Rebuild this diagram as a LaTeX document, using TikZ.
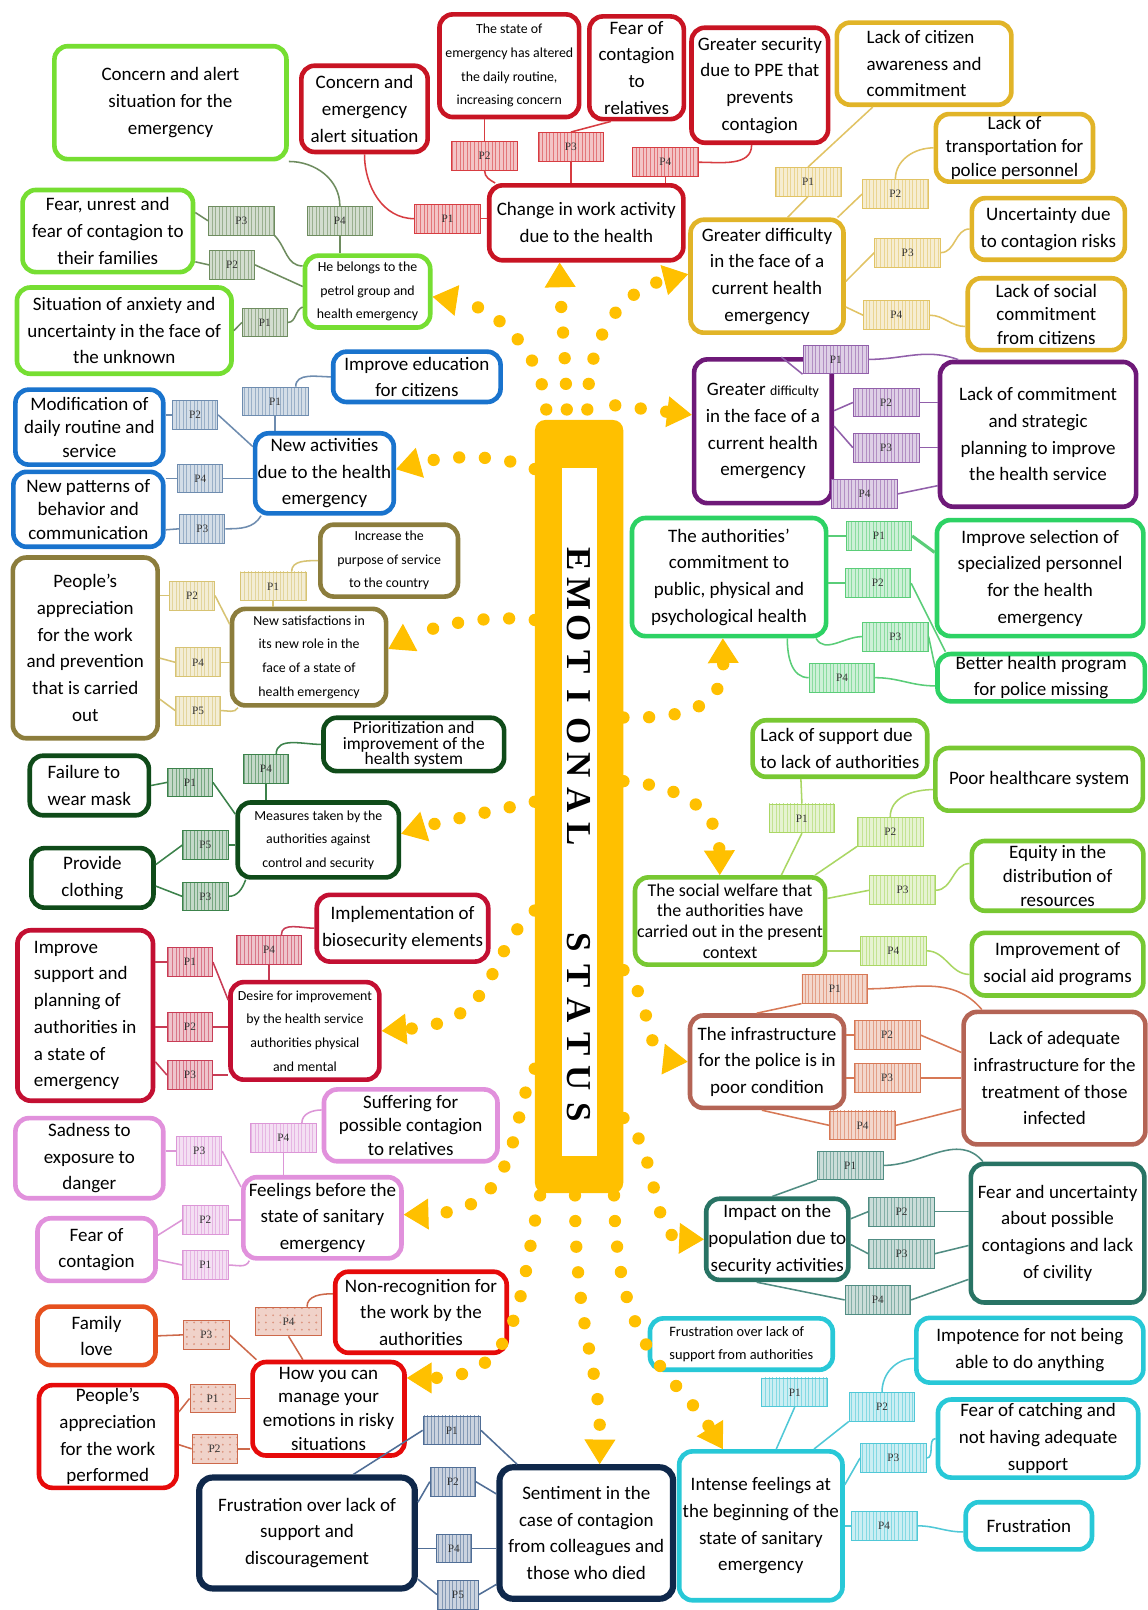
\documentclass[tikz,border=0pt]{standalone}
\usepackage{fontspec}
\setmainfont{Carlito}
\newfontfamily\emofont{Liberation Serif}
\usetikzlibrary{arrows.meta, patterns.meta}

\definecolor{emo}{RGB}{255,192,0}
\definecolor{limeg}{RGB}{118,222,50}
\definecolor{limegp}{RGB}{110,140,95}
\definecolor{redb}{RGB}{200,20,35}
\definecolor{redp}{RGB}{215,60,65}
\definecolor{goldb}{RGB}{225,180,40}
\definecolor{goldp}{RGB}{225,195,100}
\definecolor{blueb}{RGB}{25,115,205}
\definecolor{bluep}{RGB}{110,140,175}
\definecolor{oliveb}{RGB}{140,125,60}
\definecolor{olivep}{RGB}{215,195,115}
\definecolor{dgreen}{RGB}{15,75,25}
\definecolor{dgreenp}{RGB}{60,130,75}
\definecolor{crim}{RGB}{195,15,50}
\definecolor{crimp}{RGB}{200,60,85}
\definecolor{orch}{RGB}{225,145,220}
\definecolor{orchp}{RGB}{220,150,215}
\definecolor{redf}{RGB}{230,10,10}
\definecolor{orng}{RGB}{230,80,30}
\definecolor{orngp}{RGB}{205,105,75}
\definecolor{navy}{RGB}{15,40,75}
\definecolor{navyp}{RGB}{80,110,150}
\definecolor{purp}{RGB}{110,25,120}
\definecolor{purpp}{RGB}{145,95,170}
\definecolor{emer}{RGB}{45,210,100}
\definecolor{emerp}{RGB}{90,205,120}
\definecolor{ygrn}{RGB}{120,200,50}
\definecolor{ygrnp}{RGB}{170,215,100}
\definecolor{terra}{RGB}{180,100,85}
\definecolor{terrap}{RGB}{215,120,85}
\definecolor{tealb}{RGB}{40,115,100}
\definecolor{tealp}{RGB}{80,140,130}
\definecolor{cyanb}{RGB}{40,200,215}
\definecolor{cyanp}{RGB}{80,200,215}

\newcommand\mapfont{\fontsize{18.5}{26}\selectfont}
\newcommand\mapfontb{\fontsize{18.5}{23}\selectfont}
\newcommand\mapfontd{\fontsize{17.5}{20}\selectfont}
\newcommand\maptight{\fontsize{17}{15}\selectfont}
\newcommand\mapsmall{\fontsize{13.5}{23}\selectfont}
\newcommand\mapsmallb{\fontsize{14}{23}\selectfont}
\newcommand\plfont{\emofont\fontsize{11}{11}\selectfont}

\tikzset{
  topic/.style = {draw = #1, line width = 4.5pt, rounded corners = 13pt, fill = white,
                  align = center, inner sep = 2pt, font = \mapfont},
  plab/.style = {draw = #1, line width = 0.8pt, preaction = {fill = #1!30},
                 pattern = {Lines[angle = 90, distance = 3.5pt, line width = 0.9pt]},
                 pattern color = #1!70, minimum width = 64pt, minimum height = 28pt,
                 inner sep = 0pt, font = \plfont, text = black!80},
  plabdot/.style = {plab = #1, pattern = {Dots[distance = 7pt, radius = 1pt]}},
  narrow/.style = {minimum width = 44pt},
  ln/.style = {draw = #1, line width = 1.5pt},
  flow/.style = {draw = emo, line width = 12pt, line cap = round,
                 dash pattern = on 0pt off 25pt,
                 -{Triangle[length = 24pt, width = 30pt, line width = 1pt]}},
  emot/.style = {rotate = -90, inner sep = 0pt, font = \emofont\bfseries\fontsize{34}{34}\selectfont}
}

\begin{document}
\begin{tikzpicture}[x = 1pt, y = -1pt]
  \path[use as bounding box, fill = white] (0, 0) rectangle (1118, 1568);

  % centre
  \node[fill = emo, rounded corners = 10pt, minimum width = 86pt, minimum height = 753pt, inner sep = 0pt] (bar) at (564, 785.5) {};
  \node[fill = white, minimum width = 34pt, minimum height = 670pt, inner sep = 0pt] (title) at (564, 791) {};
  \foreach \ch [count = \i from 0] in {E,M,O,T,I,O,N,A,L}
    \node[emot] (emo-\i) at (564, 545 + 33.4 * \i) {\ch};
  \foreach \ch [count = \i from 0] in {S,T,A,T,U,S}
    \node[emot] (sta-\i) at (564, 918 + 33 * \i) {\ch};

  % top left
  \node[topic = limeg, minimum width = 226pt, minimum height = 110pt] (g1) at (166, 100) {Concern and alert\\situation for the\\emergency};
  \node[topic = limeg, minimum width = 166pt, minimum height = 80pt] (g2) at (105, 225) {Fear, unrest and\\fear of contagion to\\their families};
  \node[topic = limeg, minimum width = 209pt, minimum height = 84pt] (g3) at (121, 322) {Situation of anxiety and\\uncertainty in the face of\\the unknown};
  \node[topic = limeg, minimum width = 122pt, minimum height = 70pt, font = \mapsmall] (gc) at (358, 284) {He belongs to the\\petrol group and\\health emergency};
  \node[plab = limegp] (gp3) at (235, 215) {P3};
  \node[plab = limegp] (gp4) at (331, 215) {P4};
  \node[plab = limegp, narrow] (gp2) at (226, 258) {P2};
  \node[plab = limegp, narrow] (gp1) at (258, 314) {P1};

  % top
  \node[topic = redb, minimum width = 123pt, minimum height = 84pt] (r1) at (355, 106) {Concern and\\emergency\\alert situation};
  \node[topic = redb, minimum width = 136pt, minimum height = 100pt, font = \mapsmall] (r2) at (496, 64) {The state of\\emergency has altered\\the daily routine,\\increasing concern};
  \node[topic = redb, minimum width = 92pt, minimum height = 100pt] (r3) at (620, 66) {Fear of\\contagion\\to\\relatives};
  \node[topic = redb, minimum width = 133pt, minimum height = 112pt] (r4) at (740, 83) {Greater security\\due to PPE that\\prevents\\contagion};
  \node[topic = redb, minimum width = 189pt, minimum height = 73pt] (rc) at (571, 217) {Change in work activity\\due to the health};
  \node[plab = redp] (rp1) at (436, 213) {P1};
  \node[plab = redp] (rp2) at (472, 152) {P2};
  \node[plab = redp] (rp3) at (556, 143) {P3};
  \node[plab = redp] (rp4) at (648, 158) {P4};

  % top right
  \node[topic = goldb, minimum width = 170pt, minimum height = 80pt, align = left] (y1) at (900, 62) {Lack of citizen\\awareness and\\commitment};
  \node[topic = goldb, minimum width = 153pt, minimum height = 64pt, font = \mapfontb] (y2) at (988, 144) {Lack of\\transportation for\\police personnel};
  \node[topic = goldb, minimum width = 149pt, minimum height = 60pt] (y3) at (1021, 223) {Uncertainty due\\to contagion risks};
  \node[topic = goldb, minimum width = 153pt, minimum height = 70pt, font = \mapfontb] (y4) at (1019, 306) {Lack of social\\commitment\\from citizens};
  \node[topic = goldb, minimum width = 149pt, minimum height = 110pt] (yc) at (747, 269) {Greater difficulty\\in the face of a\\current health\\emergency};
  \node[plab = goldp] (yp1) at (787, 177) {P1};
  \node[plab = goldp] (yp2) at (872, 189) {P2};
  \node[plab = goldp] (yp3) at (884, 246) {P3};
  \node[plab = goldp] (yp4) at (873, 307) {P4};

  % blue
  \node[topic = blueb, minimum width = 163pt, minimum height = 49pt] (b1) at (406, 367) {Improve education\\for citizens};
  \node[topic = blueb, minimum width = 144pt, minimum height = 73pt, font = \mapfontb] (b2) at (87, 416) {Modification of\\daily routine and\\service};
  \node[topic = blueb, minimum width = 146pt, minimum height = 73pt, font = \mapfontb] (b3) at (86, 496) {New patterns of\\behavior and\\communication};
  \node[topic = blueb, minimum width = 135pt, minimum height = 78pt] (bc) at (316, 461) {New activities\\due to the health\\emergency};
  \node[plab = bluep] (bp1) at (268, 391) {P1};
  \node[plab = bluep, narrow] (bp2) at (190, 404) {P2};
  \node[plab = bluep, narrow] (bp4) at (195, 466) {P4};
  \node[plab = bluep, narrow] (bp3) at (197, 515) {P3};

  % olive
  \node[topic = oliveb, minimum width = 134pt, minimum height = 70pt, font = \mapsmall] (o1) at (379, 546) {Increase the\\purpose of service\\to the country};
  \node[topic = oliveb, minimum width = 141pt, minimum height = 176pt] (o2) at (83, 631) {People's\\appreciation\\for the work\\and prevention\\that is carried\\out};
  \node[topic = oliveb, minimum width = 150pt, minimum height = 94pt, font = \mapsmall] (oc) at (301, 640) {New satisfactions in\\its new role in the\\face of a state of\\health emergency};
  \node[plab = olivep] (op1) at (266, 571) {P1};
  \node[plab = olivep, narrow] (op2) at (187, 580) {P2};
  \node[plab = olivep, narrow] (op4) at (193, 645) {P4};
  \node[plab = olivep, narrow] (op5) at (193, 692) {P5};

  % dark green
  \node[topic = dgreen, minimum width = 176pt, minimum height = 52pt, font = \maptight] (d1) at (403, 725) {Prioritization and\\improvement of the\\health system};
  \node[topic = dgreen, minimum width = 116pt, minimum height = 58pt, align = left] (d2) at (87, 765) {Failure to\\wear mask};
  \node[topic = dgreen, minimum width = 119pt, minimum height = 58pt] (d3) at (90, 855) {Provide\\clothing};
  \node[topic = dgreen, minimum width = 157pt, minimum height = 73pt, font = \mapsmall] (dc) at (310, 818) {Measures taken by the\\authorities against\\control and security};
  \node[plab = dgreenp, narrow] (dp4) at (259, 749) {P4};
  \node[plab = dgreenp, narrow] (dp1) at (185, 762) {P1};
  \node[plab = dgreenp, narrow] (dp5) at (200, 823) {P5};
  \node[plab = dgreenp, narrow] (dp3) at (200, 873) {P3};

  % crimson
  \node[topic = crim, minimum width = 167pt, minimum height = 65pt] (c1) at (392, 904) {Implementation of\\biosecurity elements};
  \node[topic = crim, minimum width = 132pt, minimum height = 166pt, align = left] (c2) at (83, 989) {Improve\\support and\\planning of\\authorities in\\a state of\\emergency};
  \node[topic = crim, minimum width = 145pt, minimum height = 95pt, font = \mapsmall] (cc) at (297, 1004) {Desire for improvement\\by the health service\\authorities physical\\and mental};
  \node[plab = crimp] (cp4) at (262, 925) {P4};
  \node[plab = crimp, narrow] (cp1) at (185, 937) {P1};
  \node[plab = crimp, narrow] (cp2) at (185, 1000) {P2};
  \node[plab = crimp, narrow] (cp3) at (185, 1047) {P3};

  % pink
  \node[topic = orch, minimum width = 169pt, minimum height = 70pt, font = \mapfontb] (k1) at (400, 1096) {Suffering for\\possible contagion\\to relatives};
  \node[topic = orch, minimum width = 144pt, minimum height = 78pt] (k2) at (87, 1128) {Sadness to\\exposure to\\danger};
  \node[topic = orch, minimum width = 115pt, minimum height = 61pt] (k3) at (94, 1217) {Fear of\\contagion};
  \node[topic = orch, minimum width = 154pt, minimum height = 79pt] (kc) at (314, 1186) {Feelings before the\\state of sanitary\\emergency};
  \node[plab = orchp] (kp4) at (276, 1108) {P4};
  \node[plab = orchp, narrow] (kp3) at (194, 1121) {P3};
  \node[plab = orchp, narrow] (kp2) at (200, 1188) {P2};
  \node[plab = orchp, narrow] (kp1) at (200, 1232) {P1};

  % bottom left
  \node[topic = redf, minimum width = 167pt, minimum height = 79pt] (f1) at (410, 1278) {Non-recognition for\\the work by the\\authorities};
  \node[topic = orng, minimum width = 115pt, minimum height = 57pt] (f2) at (94, 1301) {Family\\love};
  \node[topic = redf, minimum width = 134pt, minimum height = 100pt] (f3) at (105, 1399) {People's\\appreciation\\for the work\\performed};
  \node[topic = redf, minimum width = 148pt, minimum height = 91pt, font = \mapfontb] (fc) at (320, 1372) {How you can\\manage your\\emotions in risky\\situations};
  \node[plabdot = orngp] (fp4) at (281, 1287) {P4};
  \node[plabdot = orngp, narrow] (fp3) at (201, 1300) {P3};
  \node[plabdot = orngp, narrow] (fp1) at (207, 1362) {P1};
  \node[plabdot = orngp, narrow] (fp2) at (209, 1411) {P2};

  % bottom
  \node[topic = navy, line width = 6pt, minimum width = 210pt, minimum height = 108pt] (n1) at (299, 1493) {Frustration over lack of\\support and\\discouragement};
  \node[topic = navy, line width = 6pt, minimum width = 169pt, minimum height = 128pt] (n2) at (571, 1493) {Sentiment in the\\case of contagion\\from colleagues and\\those who died};
  \node[plab = navyp, minimum width = 56pt] (np1) at (440, 1393) {P1};
  \node[plab = navyp, narrow] (np2) at (441, 1443) {P2};
  \node[plab = navyp, minimum width = 34pt] (np4) at (442, 1508) {P4};
  \node[plab = navyp, minimum width = 40pt] (np5) at (446, 1553) {P5};

  % purple
  \node[topic = purp, minimum width = 191pt, minimum height = 141pt] (u1) at (1011, 423) {Lack of commitment\\and strategic\\planning to improve\\the health service};
  \node[topic = purp, minimum width = 134pt, minimum height = 140pt] (uc) at (743, 420) {Greater {\mapsmall difficulty}\\in the face of a\\current health\\emergency};
  \node[plab = purpp] (up1) at (814, 350) {P1};
  \node[plab = purpp] (up2) at (863, 392) {P2};
  \node[plab = purpp] (up3) at (863, 436) {P3};
  \node[plab = purpp] (up4) at (842, 481) {P4};

  % emerald
  \node[topic = emer, minimum width = 201pt, minimum height = 113pt] (e1) at (1013, 563) {Improve selection of\\specialized personnel\\for the health\\emergency};
  \node[topic = emer, minimum width = 202pt, minimum height = 46pt] (e2) at (1014, 660) {Better health program\\for police missing};
  \node[topic = emer, minimum width = 189pt, minimum height = 115pt] (ec) at (710, 562) {The authorities'\\commitment to\\public, physical and\\psychological health};
  \node[plab = emerp] (ep1) at (856, 522) {P1};
  \node[plab = emerp] (ep2) at (855, 568) {P2};
  \node[plab = emerp] (ep3) at (872, 620) {P3};
  \node[plab = emerp] (ep4) at (820, 660) {P4};

  % light green
  \node[topic = ygrn, minimum width = 170pt, minimum height = 55pt, align = left] (l1) at (818, 729) {Lack of support due\\to lack of authorities};
  \node[topic = ygrn, minimum width = 202pt, minimum height = 61pt] (l2) at (1012, 759) {Poor healthcare system};
  \node[topic = ygrn, minimum width = 167pt, minimum height = 68pt, font = \mapfontb] (l3) at (1030, 853) {Equity in the\\distribution of\\resources};
  \node[topic = ygrn, minimum width = 167pt, minimum height = 61pt] (l4) at (1030, 939) {Improvement of\\social aid programs};
  \node[topic = ygrn, minimum width = 184pt, minimum height = 85pt, font = \mapfontd] (lc) at (711, 897) {The social welfare that\\the authorities have\\carried out in the present\\context};
  \node[plab = ygrnp] (lp1) at (781, 797) {P1};
  \node[plab = ygrnp] (lp2) at (867, 810) {P2};
  \node[plab = ygrnp] (lp3) at (879, 867) {P3};
  \node[plab = ygrnp] (lp4) at (870, 926) {P4};

  % brown
  \node[topic = terra, minimum width = 177pt, minimum height = 129pt] (t1) at (1027, 1050) {Lack of adequate\\infrastructure for the\\treatment of those\\infected};
  \node[topic = terra, minimum width = 150pt, minimum height = 90pt] (tc) at (747, 1034) {The infrastructure\\for the police is in\\poor condition};
  \node[plab = terrap] (tp1) at (813, 963) {P1};
  \node[plab = terrap] (tp2) at (864, 1008) {P2};
  \node[plab = terrap] (tp3) at (864, 1050) {P3};
  \node[plab = terrap] (tp4) at (840, 1096) {P4};

  % teal
  \node[topic = tealb, minimum width = 169pt, minimum height = 135pt] (s1) at (1030, 1201) {Fear and uncertainty\\about possible\\contagions and lack\\of civility};
  \node[topic = tealb, minimum width = 136pt, minimum height = 79pt] (sc) at (757, 1207) {Impact on the\\population due to\\security activities};
  \node[plab = tealp] (sp1) at (828, 1135) {P1};
  \node[plab = tealp] (sp2) at (878, 1180) {P2};
  \node[plab = tealp] (sp3) at (878, 1221) {P3};
  \node[plab = tealp] (sp4) at (855, 1266) {P4};

  % cyan
  \node[topic = cyanb, minimum width = 178pt, minimum height = 50pt, font = \mapsmallb, align = left] (q1) at (722, 1309) {Frustration over lack of\\support from authorities};
  \node[topic = cyanb, minimum width = 221pt, minimum height = 63pt] (q2) at (1003, 1315) {Impotence for not being\\able to do anything};
  \node[topic = cyanb, minimum width = 195pt, minimum height = 76pt] (q3) at (1011, 1401) {Fear of catching and\\not having adequate\\support};
  \node[topic = cyanb, minimum width = 123pt, minimum height = 46pt] (q4) at (1002, 1486) {Frustration};
  \node[topic = cyanb, minimum width = 159pt, minimum height = 145pt] (qc) at (741, 1486) {Intense feelings at\\the beginning of the\\state of sanitary\\emergency};
  \node[plab = cyanp] (qp1) at (774, 1356) {P1};
  \node[plab = cyanp] (qp2) at (859, 1370) {P2};
  \node[plab = cyanp] (qp3) at (870, 1420) {P3};
  \node[plab = cyanp] (qp4) at (861, 1486) {P4};

  % links
  \draw[ln = limegp] (g1.south east) to[out = 0, in = 90] (gp4.north);
  \draw[ln = limegp] (gp4.south) -- (gp4.south |- gc.north);
  \draw[ln = limegp] ([yshift = 18pt]g2.east) -- (gp3.west);
  \draw[ln = limegp] (gp3.south east) to[out = -45, in = 180] ([yshift = 25pt]gc.west);
  \draw[ln = limegp] ([yshift = -30pt]g2.east) -- (gp2.west);
  \draw[ln = limegp] (gp2.east) -- ([yshift = 5pt]gc.west);
  \draw[ln = limegp] (g3.east) -- (gp1.west);
  \draw[ln = limegp] (gp1.east) to[out = 0, in = 200] ([yshift = -15pt]gc.west);

  \draw[ln = redp] (r1.south) to[out = -90, in = 180] (rp1.west);
  \draw[ln = redp] (rp1.east) -- (rp1.east -| rc.west);
  \draw[ln = redp] (rp2.north) -- (rp2.north |- r2.south);
  \draw[ln = redp] (rp2.south) to[out = -90, in = 150] ([xshift = 8pt]rc.north west);
  \draw[ln = redp] ([xshift = -25pt]r3.south) -- (rp3.north);
  \draw[ln = redp] (rp3.south) -- (rp3.south |- rc.north);
  \draw[ln = redp] ([xshift = -8pt]r4.south) to[out = -90, in = 0] (rp4.east);
  \draw[ln = redp] (rp4.south) -- (rp4.south |- rc.north);

  \draw[ln = goldp] ([xshift = -50pt]y1.south) -- (yp1.north);
  \draw[ln = goldp] (yp1.south) -- ([xshift = 20pt]yc.north);
  \draw[ln = goldp] ([xshift = -8pt]yc.north east) -- (yp2.west);
  \draw[ln = goldp] (yp2.north) to[out = 90, in = 180] (y2.west);
  \draw[ln = goldp] ([yshift = -5pt]yc.east) -- (yp3.west);
  \draw[ln = goldp] (yp3.east) to[out = 0, in = 180] (y3.west);
  \draw[ln = goldp] ([yshift = -30pt]yc.east) -- (yp4.west);
  \draw[ln = goldp] (yp4.east) to[out = 0, in = 180] ([yshift = -12pt]y4.west);

  \draw[ln = bluep] (b1.west) to[out = 180, in = 90] ([xshift = 20pt]bp1.north);
  \draw[ln = bluep] (bp1.south) -- (bp1.south |- bc.north);
  \draw[ln = bluep] ([yshift = 12pt]b2.east) -- (bp2.west);
  \draw[ln = bluep] (bp2.east) -- ([yshift = 26pt]bc.west);
  \draw[ln = bluep] ([yshift = 30pt]b3.east) -- (bp4.west);
  \draw[ln = bluep] (bp4.east) -- (bp4.east -| bc.west);
  \draw[ln = bluep] ([yshift = -20pt]b3.east) -- (bp3.west);
  \draw[ln = bluep] (bp3.east) to[out = 0, in = -120] ([xshift = 8pt]bc.south west);

  \draw[ln = olivep] (o1.west) to[out = 180, in = 90] ([xshift = 18pt]op1.north);
  \draw[ln = olivep] (op1.south) -- (op1.south |- oc.north);
  \draw[ln = olivep] ([yshift = 51pt]o2.east) -- (op2.west);
  \draw[ln = olivep] (op2.east) -- ([yshift = 32pt]oc.west);
  \draw[ln = olivep] ([yshift = -10pt]o2.east) -- (op4.west);
  \draw[ln = olivep] (op4.east) -- (op4.east -| oc.west);
  \draw[ln = olivep] ([yshift = -50pt]o2.east) -- (op5.west);
  \draw[ln = olivep] (op5.east) to[out = 0, in = -120] ([xshift = 8pt]oc.south west);

  \draw[ln = dgreenp] (d1.west) to[out = 180, in = 90] ([xshift = 10pt]dp4.north);
  \draw[ln = dgreenp] (dp4.south) -- (dp4.south |- dc.north);
  \draw[ln = dgreenp] (d2.east) -- (dp1.west);
  \draw[ln = dgreenp] (dp1.east) -- ([yshift = 25pt]dc.west);
  \draw[ln = dgreenp] ([yshift = 13pt]d3.east) -- (dp5.west);
  \draw[ln = dgreenp] (dp5.east) -- (dp5.east -| dc.west);
  \draw[ln = dgreenp] ([yshift = -8pt]d3.east) -- (dp3.west);
  \draw[ln = dgreenp] (dp3.east) to[out = 0, in = -110] ([xshift = 10pt]dc.south west);

  \draw[ln = crimp] (c1.west) to[out = 180, in = 90] ([xshift = 12pt]cp4.north);
  \draw[ln = crimp] (cp4.south) -- (cp4.south |- cc.north);
  \draw[ln = crimp] ([yshift = 52pt]c2.east) -- (cp1.west);
  \draw[ln = crimp] (cp1.east) -- ([yshift = 30pt]cc.west);
  \draw[ln = crimp] ([yshift = -11pt]c2.east) -- (cp2.west);
  \draw[ln = crimp] (cp2.east) -- (cp2.east -| cc.west);
  \draw[ln = crimp] ([yshift = -45pt]c2.east) -- (cp3.west);
  \draw[ln = crimp] (cp3.east) -- (cp3.east -| cc.west);

  \draw[ln = orchp] ([yshift = 15pt]k1.west) to[out = 180, in = 90] ([xshift = 18pt]kp4.north);
  \draw[ln = orchp] (kp4.south) -- (kp4.south |- kc.north);
  \draw[ln = orchp] ([yshift = 7pt]k2.east) -- (kp3.west);
  \draw[ln = orchp] (kp3.east) -- ([yshift = 30pt]kc.west);
  \draw[ln = orchp] ([yshift = 14pt]k3.east) -- (kp2.west);
  \draw[ln = orchp] (kp2.east) -- (kp2.east -| kc.west);
  \draw[ln = orchp] ([yshift = -10pt]k3.east) -- (kp1.west);
  \draw[ln = orchp] (kp1.east) to[out = 0, in = -110] ([xshift = 8pt]kc.south west);

  \draw[ln = orngp] ([yshift = 18pt]f1.west) to[out = 180, in = 90] ([xshift = 18pt]fp4.north);
  \draw[ln = orngp] (fp4.south) -- ([xshift = -25pt]fc.north);
  \draw[ln = orngp] (f2.east) -- (fp3.west);
  \draw[ln = orngp] (fp3.east) -- ([xshift = 6pt]fc.north west);
  \draw[ln = orngp] ([yshift = 24pt]f3.east) -- (fp1.west);
  \draw[ln = orngp] (fp1.east) -- (fp1.east -| fc.west);
  \draw[ln = orngp] ([yshift = -8pt]f3.east) -- (fp2.west);
  \draw[ln = orngp] (fp2.east) -- (fp2.east -| fc.west);

  \draw[ln = navyp] ([xshift = 45pt]n1.north) -- (np1.west);
  \draw[ln = navyp] (np1.east) -- ([xshift = 20pt]n2.north west);
  \draw[ln = navyp] ([yshift = 30pt]n1.east) -- (np2.west);
  \draw[ln = navyp] (np2.east) -- ([yshift = 38pt]n2.west);
  \draw[ln = navyp] ([yshift = -15pt]n1.east) -- (np4.west);
  \draw[ln = navyp] (np4.east) -- (np4.east -| n2.west);
  \draw[ln = navyp] ([yshift = -45pt]n1.east) -- (np5.west);
  \draw[ln = navyp] (np5.east) -- ([yshift = -50pt]n2.west);

  \draw[ln = purpp] ([xshift = 18pt]uc.north) -- (up1.south west);
  \draw[ln = purpp] (up1.east) to[out = 0, in = 160] ([xshift = 20pt]u1.north west);
  \draw[ln = purpp] ([yshift = 20pt]uc.east) -- (up2.west);
  \draw[ln = purpp] (up2.east) -- (up2.east -| u1.west);
  \draw[ln = purpp] ([yshift = 5pt]uc.east) -- (up3.west);
  \draw[ln = purpp] (up3.east) -- (up3.east -| u1.west);
  \draw[ln = purpp] (up4.east) -- ([yshift = -50pt]u1.west);

  \draw[ln = emerp] ([yshift = 40pt]ec.east) -- (ep1.west);
  \draw[ln = emerp, line width = 3pt] (ep1.east) -- ([yshift = 25pt]e1.west);
  \draw[ln = emerp] ([yshift = -6pt]ec.east) -- (ep2.west);
  \draw[ln = emerp] (ep2.east) -- ([xshift = 10pt]e2.north west);
  \draw[ln = emerp] ([xshift = -12pt]ec.south east) to[out = -60, in = 180] (ep3.west);
  \draw[ln = emerp] (ep3.east) -- ([yshift = 10pt]e2.west);
  \draw[ln = emerp] ([xshift = -40pt]ec.south east) to[out = -90, in = 180] (ep4.west);
  \draw[ln = emerp] (ep4.east) to[out = 0, in = 180] ([yshift = -8pt]e2.west);

  \draw[ln = ygrnp] ([xshift = -38pt]l1.south) -- (lp1.north);
  \draw[ln = ygrnp] (lp1.south) -- ([xshift = 50pt]lc.north);
  \draw[ln = ygrnp] ([xshift = -12pt]lc.north east) -- (lp2.south west);
  \draw[ln = ygrnp] (lp2.north) to[out = 90, in = 180] ([yshift = -10pt]l2.west);
  \draw[ln = ygrnp] ([yshift = 22pt]lc.east) -- (lp3.west);
  \draw[ln = ygrnp] (lp3.east) to[out = 0, in = 180] ([yshift = 12pt]l3.west);
  \draw[ln = ygrnp] ([yshift = -29pt]lc.east) -- (lp4.west);
  \draw[ln = ygrnp] (lp4.east) to[out = 0, in = 180] ([yshift = -10pt]l4.west);

  \draw[ln = terrap] ([xshift = -10pt]tc.north) -- (tp1.south west);
  \draw[ln = terrap] (tp1.east) to[out = 0, in = 130] ([xshift = 20pt]t1.north west);
  \draw[ln = terrap] ([yshift = 26pt]tc.east) -- (tp2.west);
  \draw[ln = terrap] (tp2.east) -- ([yshift = 25pt]t1.west);
  \draw[ln = terrap] ([yshift = -16pt]tc.east) -- (tp3.west);
  \draw[ln = terrap] (tp3.east) -- (t1.west);
  \draw[ln = terrap] ([xshift = -5pt]tc.south) -- (tp4.west);
  \draw[ln = terrap] (tp4.east) -- ([yshift = -30pt]t1.west);

  \draw[ln = tealp] ([xshift = -5pt]sc.north) -- (sp1.south west);
  \draw[ln = tealp] (sp1.east) to[out = 0, in = 130] ([xshift = 14pt]s1.north west);
  \draw[ln = tealp] ([yshift = 20pt]sc.east) -- (sp2.west);
  \draw[ln = tealp] (sp2.east) -- (sp2.east -| s1.west);
  \draw[ln = tealp] ([yshift = -5pt]sc.east) -- (sp3.west);
  \draw[ln = tealp] (sp3.east) -- ([yshift = -12pt]s1.west);
  \draw[ln = tealp] ([xshift = -20pt]sc.south) -- (sp4.west);
  \draw[ln = tealp] (sp4.east) -- ([yshift = -45pt]s1.west);

  \draw[ln = cyanp] (qp1.south) -- ([xshift = 15pt]qc.north);
  \draw[ln = cyanp] ([xshift = -30pt]qc.north east) -- (qp2.south west);
  \draw[ln = cyanp] (qp2.north) to[out = 90, in = 180] ([yshift = -8pt]q2.west);
  \draw[ln = cyanp] ([yshift = 40pt]qc.east) -- (qp3.west);
  \draw[ln = cyanp] (qp3.east) to[out = 0, in = 180] (q3.west);
  \draw[ln = cyanp] (qc.east) -- (qp4.west);
  \draw[ln = cyanp] (qp4.east) to[out = 0, in = 180] ([yshift = -6pt]q4.west);

  % dotted arrows out of the bar
  \draw[flow] ([xshift = -32pt, yshift = 10pt]bar.north) .. controls (528, 340) and (480, 298) .. ([yshift = -5pt]gc.east);
  \draw[flow] ([xshift = -12pt, yshift = 10pt]bar.north) .. controls (550, 330) and (546, 300) .. ([xshift = -26pt]rc.south);
  \draw[flow] ([xshift = 8pt, yshift = 10pt]bar.north) .. controls (572, 320) and (610, 282) .. ([yshift = 2pt]yc.west);
  \draw[flow] ([yshift = -48pt]bar.north west) .. controls (480, 440) and (430, 445) .. ([yshift = 4pt]bc.east);
  \draw[flow] ([xshift = -8pt, yshift = 14pt]bar.north east) -- ([yshift = 16pt]uc.west);
  \draw[flow] ([yshift = -195pt]bar.north west) .. controls (470, 598) and (420, 610) .. ([yshift = 8pt]oc.east);
  \draw[flow] ([yshift = -290pt]bar.north east) .. controls (665, 700) and (705, 690) .. ([xshift = -6pt]ec.south);
  \draw[flow] ([yshift = -372pt]bar.north west) .. controls (480, 790) and (430, 800) .. ([yshift = 6pt]dc.east);
  \draw[flow] ([yshift = -352pt]bar.north east) .. controls (665, 765) and (700, 790) .. ([xshift = -10pt]lc.north);
  \draw[flow] ([yshift = -478pt]bar.north west) .. controls (470, 930) and (490, 995) .. (cc.east);
  \draw[flow] ([yshift = -536pt]bar.north east) .. controls (632, 965) and (632, 1030) .. (tc.west);
  \draw[flow] ([yshift = -632pt]bar.north west) .. controls (495, 1090) and (510, 1180) .. ([yshift = 3pt]kc.east);
  \draw[flow] ([yshift = -680pt]bar.north east) .. controls (640, 1115) and (635, 1205) .. (sc.west);
  \draw[flow] ([xshift = -38pt, yshift = -2pt]bar.south) .. controls (505, 1260) and (510, 1342) .. ([yshift = 30pt]fc.east);
  \draw[flow] ([xshift = -4pt, yshift = -2pt]bar.south) .. controls (560, 1300) and (585, 1330) .. ([xshift = 13pt]n2.north);
  \draw[flow] ([xshift = 34pt, yshift = -2pt]bar.south) .. controls (600, 1320) and (660, 1340) .. ([xshift = -37pt]qc.north);
\end{tikzpicture}
\end{document}
